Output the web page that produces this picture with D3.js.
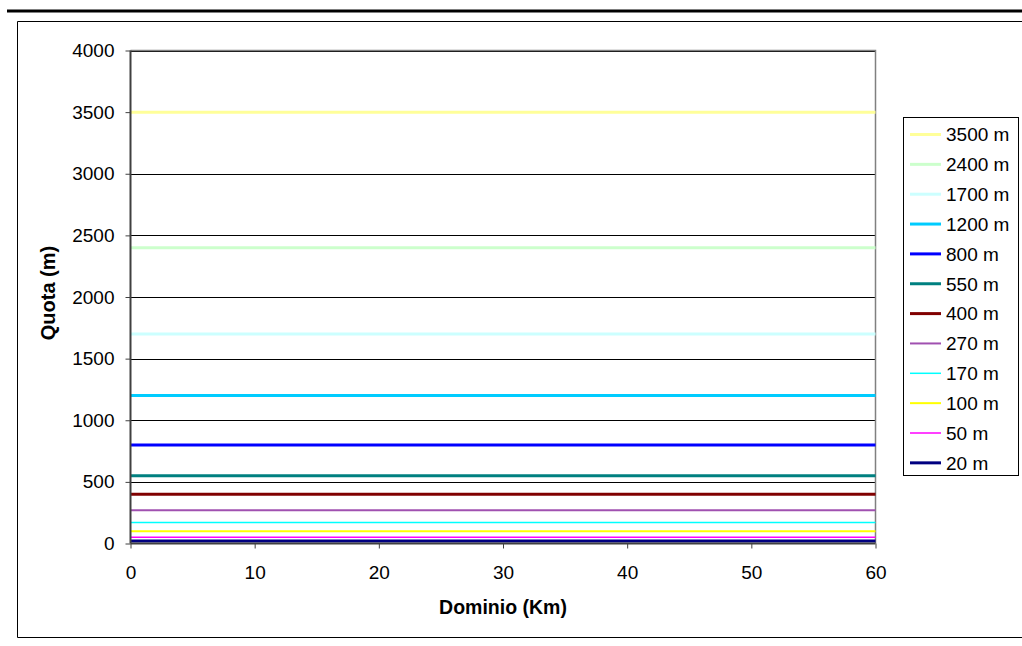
<!DOCTYPE html>
<html><head><meta charset="utf-8">
<script src="https://cdn.jsdelivr.net/npm/d3@7"></script>
<style>
body{margin:0;background:#fff;}
text{font-family:"Liberation Sans",Arial,sans-serif;}
</style></head>
<body>
<svg id="c" width="1022" height="646"></svg>
<script>
const dominio = [0, 10, 20, 30, 40, 50, 60];
const seriesNames = ["20 m","50 m","100 m","170 m","270 m","400 m","550 m","800 m","1200 m","1700 m","2400 m","3500 m"];
const seriesHeights = [20, 50, 100, 170, 270, 400, 550, 800, 1200, 1700, 2400, 3500];
const seriesColors = ["#000080","#FF00FF","#FFFF00","#00FFFF","#A050B0","#800000","#008080","#0000FF","#00CCFF","#CCFFFF","#CCFFCC","#FFFF99"];
const seriesWidths = [3,1.5,2,1.5,2,3,3,3,3,3,3,3];
const yTicks = [0,500,1000,1500,2000,2500,3000,3500,4000];
const xTicks = [0,10,20,30,40,50,60];

const svg = d3.select("#c");
svg.append("rect").attr("x",7).attr("y",9.5).attr("width",1015).attr("height",3).attr("fill","#000");
svg.append("path").attr("d","M1022,21.5H17.5V637.5H1022").attr("fill","none").attr("stroke","#000").attr("stroke-width",1);

const L=130.5, R=875.5, T=50.5, B=543.5;
const x = d3.scaleLinear().domain([0,60]).range([L,R]);
const y = d3.scaleLinear().domain([0,4000]).range([B,T]);

svg.append("g").selectAll("line").data(yTicks.filter(d=>d>0)).join("line")
  .attr("x1",L).attr("x2",R).attr("y1",d=>Math.round(y(d))+0.5).attr("y2",d=>Math.round(y(d))+0.5)
  .attr("stroke","#000").attr("stroke-width",1);
svg.append("path").attr("d",`M${L},${T}H${R}V${B}`).attr("fill","none").attr("stroke","#808080").attr("stroke-width",1.5);

const line = d3.line().x(d=>x(d[0])).y(d=>y(d[1]));
seriesHeights.forEach((h,i)=>{
  svg.append("path").datum(dominio.map(d=>[d,h])).attr("d",line)
    .attr("fill","none").attr("stroke",seriesColors[i]).attr("stroke-width",seriesWidths[i]);
});

const FS = 19;
const yAxis = d3.axisLeft(y).tickValues(yTicks).tickSize(5).tickPadding(11).tickFormat(d3.format("d"));
const gy = svg.append("g").attr("transform",`translate(${L},0)`).call(yAxis);
const xAxis = d3.axisBottom(x).tickValues(xTicks).tickSize(5).tickPadding(17).tickFormat(d3.format("d"));
const gx = svg.append("g").attr("transform",`translate(0,${B})`).call(xAxis);
[gx,gy].forEach(g=>{
  g.select(".domain").attr("stroke","#404040").attr("stroke-width",2);
  g.selectAll(".tick line").attr("stroke","#404040").attr("stroke-width",1);
  g.selectAll("text").attr("font-size",FS).attr("fill","#000").attr("font-family","Liberation Sans, Arial, sans-serif");
});
gx.select(".domain").attr("d",`M${L},0H${R}`);
gy.select(".domain").attr("d",`M0,${B}V${T}`);

svg.append("text").attr("x",(L+R)/2).attr("y",614).attr("text-anchor","middle")
  .attr("font-size",19.5).attr("font-weight","bold").text("Dominio (Km)");
svg.append("text").attr("transform",`translate(55,293) rotate(-90)`).attr("text-anchor","middle")
  .attr("font-size",20).attr("font-weight","bold").text("Quota (m)");

const lg = svg.append("g");
lg.append("rect").attr("x",903.5).attr("y",117.5).attr("width",115).attr("height",358)
  .attr("fill","#fff").attr("stroke","#000").attr("stroke-width",1);
const order = d3.range(seriesNames.length).reverse();
order.forEach((i,k)=>{
  const yy = 134.5 + k*29.85;
  lg.append("line").attr("x1",910).attr("x2",941).attr("y1",yy).attr("y2",yy)
    .attr("stroke",seriesColors[i]).attr("stroke-width",seriesWidths[i]);
  lg.append("text").attr("x",946).attr("y",yy).attr("dy","0.36em").attr("font-size",FS).text(seriesNames[i]);
});
</script>
</body></html>
